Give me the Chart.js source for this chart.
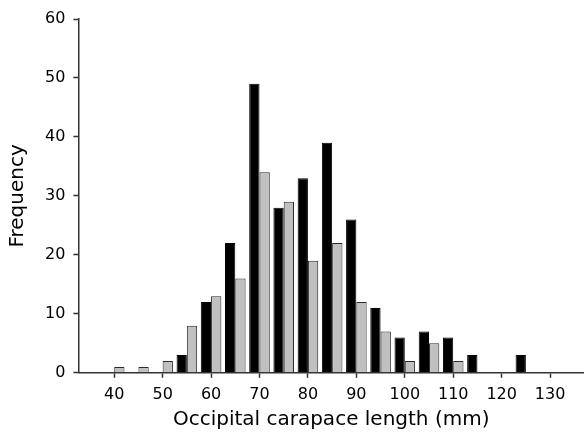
<!DOCTYPE html>
<html>
<head>
<meta charset="utf-8">
<script src="https://cdn.jsdelivr.net/npm/chart.js@4"></script>
<style>
  html, body { margin: 0; padding: 0; background: #fff; }
  #wrap { width: 584px; height: 434px; }
</style>
</head>
<body>
<div id="wrap"><canvas id="c" width="584" height="434"></canvas></div>
<script>
// Bin centres (mm)
const binCentres = [40, 45, 50, 55, 60, 65, 70, 75, 80, 85, 90, 95, 100, 105, 110, 115, 120, 125];
// Black series frequencies
const blackCounts = [0, 0, 0, 3, 12, 22, 49, 28, 33, 39, 26, 11, 6, 7, 6, 3, 0, 3];
// Grey series frequencies
const greyCounts  = [1, 1, 2, 8, 13, 16, 34, 29, 19, 22, 12, 7, 2, 5, 2, 0, 0, 0];
// Axis tick labels
const xTickValues = [40, 50, 60, 70, 80, 90, 100, 110, 120, 130];
const yTickValues = [0, 10, 20, 30, 40, 50, 60];

const FONT = "'DejaVu Sans', 'Liberation Sans', Arial, sans-serif";
const AXIS = '#333333';
const TEXT = '#000000';

new Chart(document.getElementById('c'), {
  type: 'bar',
  data: {
    datasets: [
      {
        label: 'Black',
        data: binCentres.map((x, i) => ({ x: x, y: blackCounts[i] })),
        backgroundColor: '#000000',
        borderColor: '#000000',
        borderWidth: 1,
        categoryPercentage: 0.85,
        barPercentage: 1.0
      },
      {
        label: 'Grey',
        data: binCentres.map((x, i) => ({ x: x, y: greyCounts[i] })),
        backgroundColor: '#c0c0c0',
        borderColor: '#2a2a2a',
        borderWidth: 1,
        categoryPercentage: 0.85,
        barPercentage: 1.0
      }
    ]
  },
  options: {
    responsive: false,
    animation: false,
    devicePixelRatio: 1,
    layout: { padding: { top: 19, right: 0, left: 2, bottom: 0 } },
    plugins: {
      legend: { display: false },
      tooltip: { enabled: false }
    },
    scales: {
      x: {
        type: 'linear',
        min: 32.6,
        max: 137,
        offset: false,
        afterBuildTicks: (axis) => {
          axis.ticks = xTickValues.map(v => ({ value: v }));
        },
        ticks: {
          autoSkip: false,
          maxRotation: 0,
          padding: 7,
          color: TEXT,
          font: { family: FONT, size: 16 }
        },
        grid: {
          offset: false,
          drawOnChartArea: false,
          drawTicks: true,
          tickLength: 5,
          tickWidth: 1.5,
          tickColor: AXIS,
          color: AXIS
        },
        border: { display: true, color: AXIS, width: 1.5 },
        title: {
          display: true,
          text: 'Occipital carapace length (mm)',
          color: TEXT,
          font: { family: FONT, size: 20 },
          padding: { top: -3, bottom: 2 }
        }
      },
      y: {
        min: 0,
        max: 60,
        afterBuildTicks: (axis) => {
          axis.ticks = yTickValues.map(v => ({ value: v }));
        },
        ticks: {
          padding: 8,
          color: TEXT,
          font: { family: FONT, size: 16 }
        },
        grid: {
          drawOnChartArea: false,
          drawTicks: true,
          tickLength: 5,
          tickWidth: 1.5,
          tickColor: AXIS,
          color: AXIS
        },
        border: { display: true, color: AXIS, width: 1.5 },
        title: {
          display: true,
          text: 'Frequency',
          color: TEXT,
          font: { family: FONT, size: 20 },
          padding: { top: 4, bottom: 7 }
        }
      }
    }
  }
});
</script>
</body>
</html>
